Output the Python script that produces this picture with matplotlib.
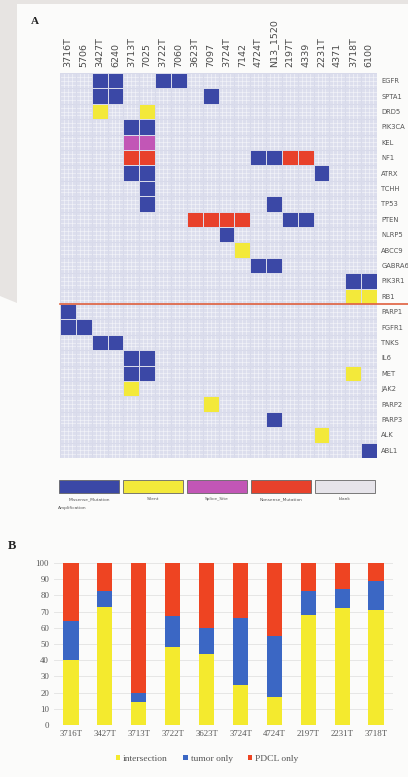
import numpy as np
import matplotlib
matplotlib.use("Agg")
import matplotlib.pyplot as plt
from matplotlib.patches import Rectangle, Polygon
from matplotlib.colors import ListedColormap

# ---- panel A data: mutation matrix ----
samples = ["3716T", "5706", "3427T", "6240", "3713T", "7025", "3722T", "7060",
           "3623T", "7097", "3724T", "7142", "4724T", "N13_1520", "2197T", "4339",
           "2231T", "4371", "3718T", "6100"]
genes = ["EGFR", "SPTA1", "DRD5", "PIK3CA", "KEL", "NF1", "ATRX", "TCHH", "TP53",
         "PTEN", "NLRP5", "ABCC9", "GABRA6", "PIK3R1", "RB1", "PARP1", "FGFR1",
         "TNKS", "IL6", "MET", "JAK2", "PARP2", "PARP3", "ALK", "ABL1"]
mut_types = ["Missense_Mutation", "Silent", "Splice_Site", "Nonsense_Mutation", "Blank"]
mut_colors = ["#3b48a6", "#f3e93a", "#c256b6", "#e8412b", "#dcdeed"]

# (gene, sample, type)
mutations = [
    ("EGFR", "3427T", "Missense_Mutation"), ("EGFR", "6240", "Missense_Mutation"),
    ("EGFR", "3722T", "Missense_Mutation"), ("EGFR", "7060", "Missense_Mutation"),
    ("SPTA1", "3427T", "Missense_Mutation"), ("SPTA1", "6240", "Missense_Mutation"),
    ("SPTA1", "7097", "Missense_Mutation"),
    ("DRD5", "3427T", "Silent"), ("DRD5", "7025", "Silent"),
    ("PIK3CA", "3713T", "Missense_Mutation"), ("PIK3CA", "7025", "Missense_Mutation"),
    ("KEL", "3713T", "Splice_Site"), ("KEL", "7025", "Splice_Site"),
    ("NF1", "3713T", "Nonsense_Mutation"), ("NF1", "7025", "Nonsense_Mutation"),
    ("NF1", "4724T", "Missense_Mutation"), ("NF1", "N13_1520", "Missense_Mutation"),
    ("NF1", "2197T", "Nonsense_Mutation"), ("NF1", "4339", "Nonsense_Mutation"),
    ("ATRX", "3713T", "Missense_Mutation"), ("ATRX", "7025", "Missense_Mutation"),
    ("ATRX", "2231T", "Missense_Mutation"),
    ("TCHH", "7025", "Missense_Mutation"),
    ("TP53", "7025", "Missense_Mutation"), ("TP53", "N13_1520", "Missense_Mutation"),
    ("PTEN", "3623T", "Nonsense_Mutation"), ("PTEN", "7097", "Nonsense_Mutation"),
    ("PTEN", "3724T", "Nonsense_Mutation"), ("PTEN", "7142", "Nonsense_Mutation"),
    ("PTEN", "2197T", "Missense_Mutation"), ("PTEN", "4339", "Missense_Mutation"),
    ("NLRP5", "3724T", "Missense_Mutation"),
    ("ABCC9", "7142", "Silent"),
    ("GABRA6", "4724T", "Missense_Mutation"), ("GABRA6", "N13_1520", "Missense_Mutation"),
    ("PIK3R1", "3718T", "Missense_Mutation"), ("PIK3R1", "6100", "Missense_Mutation"),
    ("RB1", "3718T", "Silent"), ("RB1", "6100", "Silent"),
    ("PARP1", "3716T", "Missense_Mutation"),
    ("FGFR1", "3716T", "Missense_Mutation"), ("FGFR1", "5706", "Missense_Mutation"),
    ("TNKS", "3427T", "Missense_Mutation"), ("TNKS", "6240", "Missense_Mutation"),
    ("IL6", "3713T", "Missense_Mutation"), ("IL6", "7025", "Missense_Mutation"),
    ("MET", "3713T", "Missense_Mutation"), ("MET", "7025", "Missense_Mutation"),
    ("MET", "3718T", "Silent"),
    ("JAK2", "3713T", "Silent"),
    ("PARP2", "7097", "Silent"),
    ("PARP3", "N13_1520", "Missense_Mutation"),
    ("ALK", "2231T", "Silent"),
    ("ABL1", "6100", "Missense_Mutation"),
]
split_after = "RB1"

# ---- panel B data: stacked percentages ----
b_samples = ["3716T", "3427T", "3713T", "3722T", "3623T", "3724T", "4724T",
             "2197T", "2231T", "3718T"]
intersection = [40, 73, 14, 48, 44, 25, 17, 68, 72, 71]
tumor_only = [24, 10, 6, 19, 16, 41, 38, 15, 12, 18]
pdcl_only = [36, 17, 80, 33, 40, 34, 45, 17, 16, 11]

W, H = 408, 777
fig = plt.figure(figsize=(W / 100, H / 100), dpi=100, facecolor="#fbfbfa")


def fx(px):
    return px / W


def fy(py):
    return 1 - py / H


# photo background (grey page edge at top/left)
fig.patches.append(Polygon([(0, 1), (1, 1), (1, fy(4)), (fx(17), fy(4)),
                            (fx(17), fy(303)), (0, fy(296))],
                           closed=True, transform=fig.transFigure,
                           facecolor="#e7e4e2", edgecolor="none", zorder=0))

# ---------------- panel A ----------------
ax = fig.add_axes([fx(60), fy(458), fx(377) - fx(60), fy(73) - fy(458)])
n_r, n_c = len(genes), len(samples)
mat = np.full((n_r, n_c), mut_types.index("Blank"))
for g, s, t in mutations:
    mat[genes.index(g), samples.index(s)] = mut_types.index(t)

# blank background with a fine grid
ax.add_patch(Rectangle((-0.5, -0.5), n_c, n_r, facecolor=mut_colors[-1],
                       edgecolor="none", zorder=0))
for v in np.arange(-0.5, n_c, 0.25):
    ax.axvline(v, color="white", lw=0.5, alpha=0.6, zorder=1)
for v in np.arange(-0.5, n_r, 0.25):
    ax.axhline(v, color="white", lw=0.5, alpha=0.6, zorder=1)

masked = np.ma.masked_equal(mat, mut_types.index("Blank"))
ax.pcolormesh(np.arange(n_c + 1) - 0.5, np.arange(n_r + 1) - 0.5, masked,
              cmap=ListedColormap(mut_colors), vmin=-0.5, vmax=4.5,
              edgecolors="#d8daea", linewidth=0.5, zorder=2)

ax.set_xlim(-0.5, n_c - 0.5)
ax.set_ylim(n_r - 0.5, -0.5)
ax.xaxis.tick_top()
ax.set_xticks(range(n_c))
ax.set_xticklabels(samples, rotation=90, fontsize=6.8, color="#4a4a4a")
ax.yaxis.tick_right()
ax.set_yticks(range(n_r))
ax.set_yticklabels(genes, fontsize=4.9, color="#555555")
ax.tick_params(axis="x", length=0, pad=4)
ax.tick_params(axis="y", length=0, pad=3)
for sp in ax.spines.values():
    sp.set_visible(False)

# split line between gene groups, running off the right edge
ax.axhline(genes.index(split_after) + 0.5, xmin=0, xmax=1.2, color="#e0603e",
           lw=1.2, clip_on=False, zorder=3)

fig.text(fx(35), fy(22), "A", fontsize=8, fontweight="bold", family="Liberation Serif",
         ha="center", va="center", color="#222222")

# colour key under the matrix
key_x = [59, 123, 187, 251, 315]
for i, (name, col) in enumerate(zip(mut_types, mut_colors)):
    x0 = key_x[i]
    fig.patches.append(Rectangle((fx(x0), fy(493)), fx(60), fy(480) - fy(493),
                                 transform=fig.transFigure,
                                 facecolor="#e6e4ea" if name == "Blank" else col,
                                 edgecolor="#666666", lw=0.6))
    lab = name.lower() if name == "Blank" else name
    fig.text(fx(x0 + 30), fy(499), lab, fontsize=3.2, color="#555555",
             ha="center", va="center")
fig.text(fx(58), fy(508), "Amplification", fontsize=3.2, color="#555555",
         ha="left", va="center")

# ---------------- panel B ----------------
bx = fig.add_axes([fx(54), fy(725), fx(393) - fx(54), fy(563) - fy(725)])
xpos = np.arange(len(b_samples))
bw = 0.45
bx.bar(xpos, intersection, bw, color="#f4ea2e", label="intersection", zorder=2)
bx.bar(xpos, tumor_only, bw, bottom=intersection, color="#3b67c4",
       label="tumor only", zorder=2)
bx.bar(xpos, pdcl_only, bw, bottom=np.add(intersection, tumor_only),
       color="#ee4422", label="PDCL only", zorder=2)
bx.set_xlim(-0.5, len(b_samples) - 0.5)
bx.set_ylim(0, 100)
bx.set_yticks(range(0, 101, 10))
bx.yaxis.grid(True, color="#e2e2e2", lw=0.6, zorder=0)
bx.set_axisbelow(True)
bx.set_xticks(xpos)
bx.set_xticklabels(b_samples)
bx.tick_params(length=0, labelsize=6.3, colors="#555555")
for lab in bx.get_xticklabels() + bx.get_yticklabels():
    lab.set_family("Liberation Serif")
for sp in bx.spines.values():
    sp.set_visible(False)
bx.set_facecolor("none")

leg = fig.legend(loc="center", bbox_to_anchor=(fx(207), fy(759)), ncol=3,
                 frameon=False, handlelength=0.5, handleheight=0.5,
                 handletextpad=0.3, columnspacing=1.6,
                 prop={"family": "Liberation Serif", "size": 6.8})
for t in leg.get_texts():
    t.set_color("#555555")

fig.text(fx(12), fy(546), "B", fontsize=9, fontweight="bold", family="Liberation Serif",
         ha="center", va="center", color="#222222")

fig.savefig("out.png", dpi=100, facecolor=fig.get_facecolor())
